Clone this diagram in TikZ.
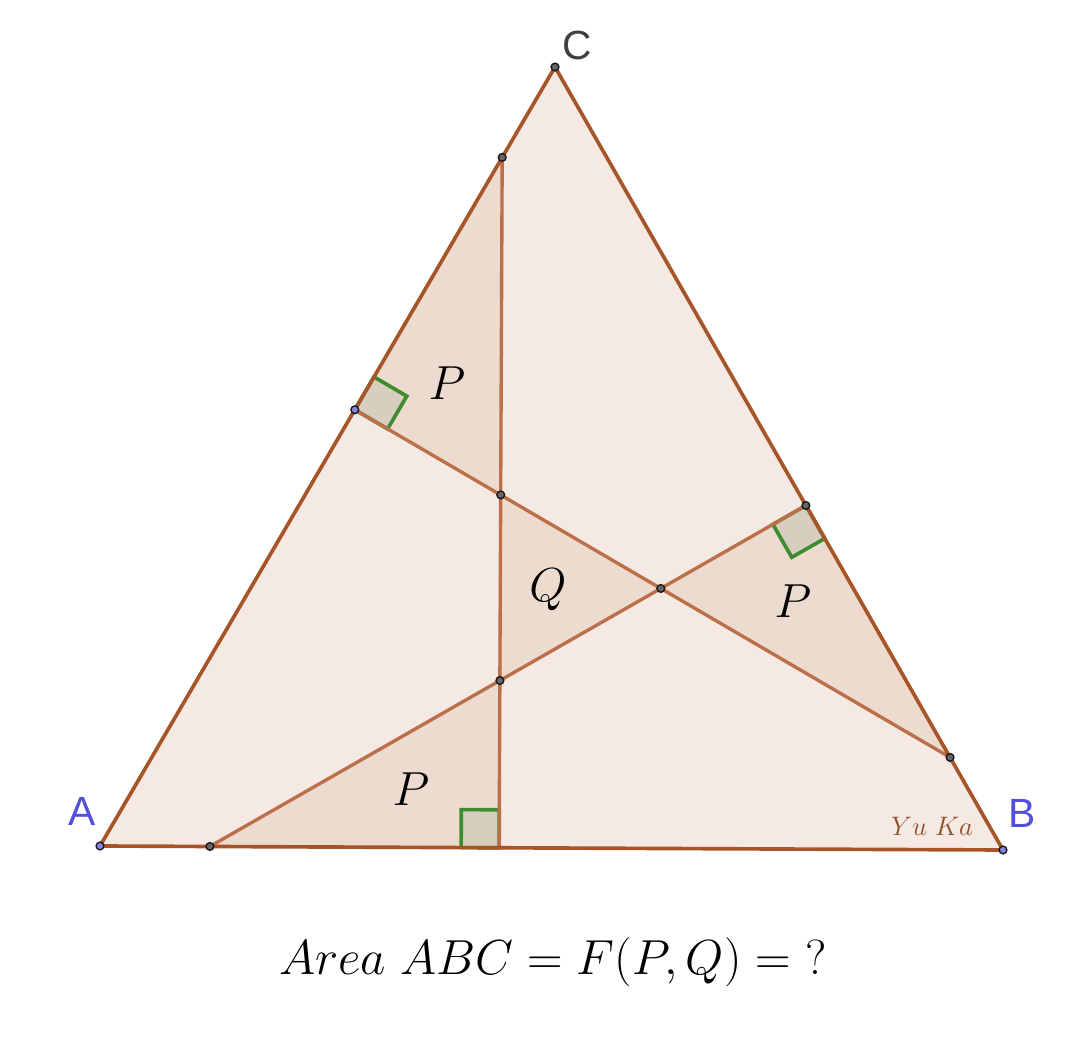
\documentclass[tikz,border=0pt]{standalone}
\usepackage{fix-cm}
\usepackage{fontspec}
\newfontfamily\ptfont{Liberation Sans}
\usetikzlibrary{calc}
\definecolor{mybg}{RGB}{245,233,228}
\definecolor{myshade}{RGB}{237,219,208}
\definecolor{mysquare}{RGB}{216,206,192}
\definecolor{myedge}{RGB}{166,84,40}
\definecolor{myline}{RGB}{188,112,74}
\definecolor{mygreen}{RGB}{62,140,50}
\definecolor{myblue}{RGB}{80,80,220}
\definecolor{mybrown}{RGB}{140,80,40}

\begin{document}
\begin{tikzpicture}[
		x=0.025cm, y=0.025cm,
		edge/.style={draw=myedge, line width=2.6pt, line join=round},
		inner/.style={draw=myline, line width=2.4pt},
		square/.style={draw=mygreen, fill=mysquare, line width=2.6pt},
		dot/.style={circle, draw=black!90, fill=black!60, line width=1pt, inner sep=0pt, minimum size=5.5pt},
		bluedot/.style={dot, fill=myblue!70},
		vertex/.style={font=\ptfont\fontsize{29}{30}\selectfont},
		area/.style={font=\fontsize{34}{36}\selectfont}
		]
		\useasboundingbox (0,0) rectangle (1080,1055);
		
		% Points
		\coordinate (A) at (100,209);
		\coordinate (B) at (1003,205);
		\coordinate (C) at (555,988);
		\coordinate (F1) at ($(A)!0.442!(B)$);
		\coordinate (G1) at ($(F1)!1!90:(B)$);
		\coordinate (E1) at (intersection of F1--G1 and A--C);
		\coordinate (F2) at ($(A)!0.56!(C)$);
		\coordinate (G2) at ($(F2)!1!-90:(C)$);
		\coordinate (E2) at (intersection of F2--G2 and B--C);
		\coordinate (F3) at ($(B)!0.44!(C)$);
		\coordinate (G3) at ($(F3)!1!90:(C)$);
		\coordinate (E3) at (intersection of F3--G3 and A--B);
		\coordinate (X12) at (intersection of F1--E1 and F2--E2);
		\coordinate (X13) at (intersection of F1--E1 and F3--E3);
		\coordinate (X23) at (intersection of F2--E2 and F3--E3);
		
		% Fills
		\fill[mybg] (A) -- (B) -- (C) -- cycle;
		\fill[myshade] (E1) -- (F2) -- (X12) -- cycle;
		\fill[myshade] (F3) -- (X23) -- (E2) -- cycle;
		\fill[myshade] (E3) -- (X13) -- (F1) -- cycle;
		\fill[myshade] (X12) -- (X23) -- (X13) -- cycle;
		
		% Right angles
		\draw[square] (F1) -- ($(F1)!0.95cm!(A)$) -- ($($(F1)!0.95cm!(A)$)+($(F1)!0.95cm!(E1)$)-(F1)$) -- ($(F1)!0.95cm!(E1)$) -- cycle;
		\draw[square] (F2) -- ($(F2)!0.95cm!(C)$) -- ($($(F2)!0.95cm!(C)$)+($(F2)!0.95cm!(E2)$)-(F2)$) -- ($(F2)!0.95cm!(E2)$) -- cycle;
		\draw[square] (F3) -- ($(F3)!0.95cm!(B)$) -- ($($(F3)!0.95cm!(B)$)+($(F3)!0.95cm!(E3)$)-(F3)$) -- ($(F3)!0.95cm!(E3)$) -- cycle;
		
		% Lines
		\draw[inner] (F1) -- (E1);
		\draw[inner] (F2) -- (E2);
		\draw[inner] (F3) -- (E3);
		\draw[edge] (A) -- (B) -- (C) -- cycle;
		
		% Dots
		\node[bluedot] (dA) at (A) {};
		\node[bluedot] (dB) at (B) {};
		\node[dot] (dC) at (C) {};
		\node[bluedot] (dF2) at (F2) {};
		\node[dot] (dF3) at (F3) {};
		\node[dot] (dE1) at (E1) {};
		\node[dot] (dE2) at (E2) {};
		\node[dot] (dE3) at (E3) {};
		\node[dot] (dX12) at (X12) {};
		\node[dot] (dX13) at (X13) {};
		\node[dot] (dX23) at (X23) {};
		
		% Labels
		\node[vertex, text=myblue] (lA) at (82,244) {A};
		\node[vertex, text=myblue] (lB) at (1022,242) {B};
		\node[vertex, text=black!75] (lC) at (577,1010) {C};
		\node[area] (p1) at (447,672) {$P$};
		\node[area] (p2) at (793,454) {$P$};
		\node[area] (p3) at (411,266) {$P$};
		\node[area] (q) at (548,465) {$Q$};
		\node[text=mybrown, font=\fontsize{19}{20}\selectfont] (yuka) at (932,229) {$Yu\ Ka$};
		\node[font=\fontsize{35}{38}\selectfont] (title) at (553,93) {$Area\ ABC = F(P,Q) = \ ?$};
		
	\end{tikzpicture}
\end{document}
